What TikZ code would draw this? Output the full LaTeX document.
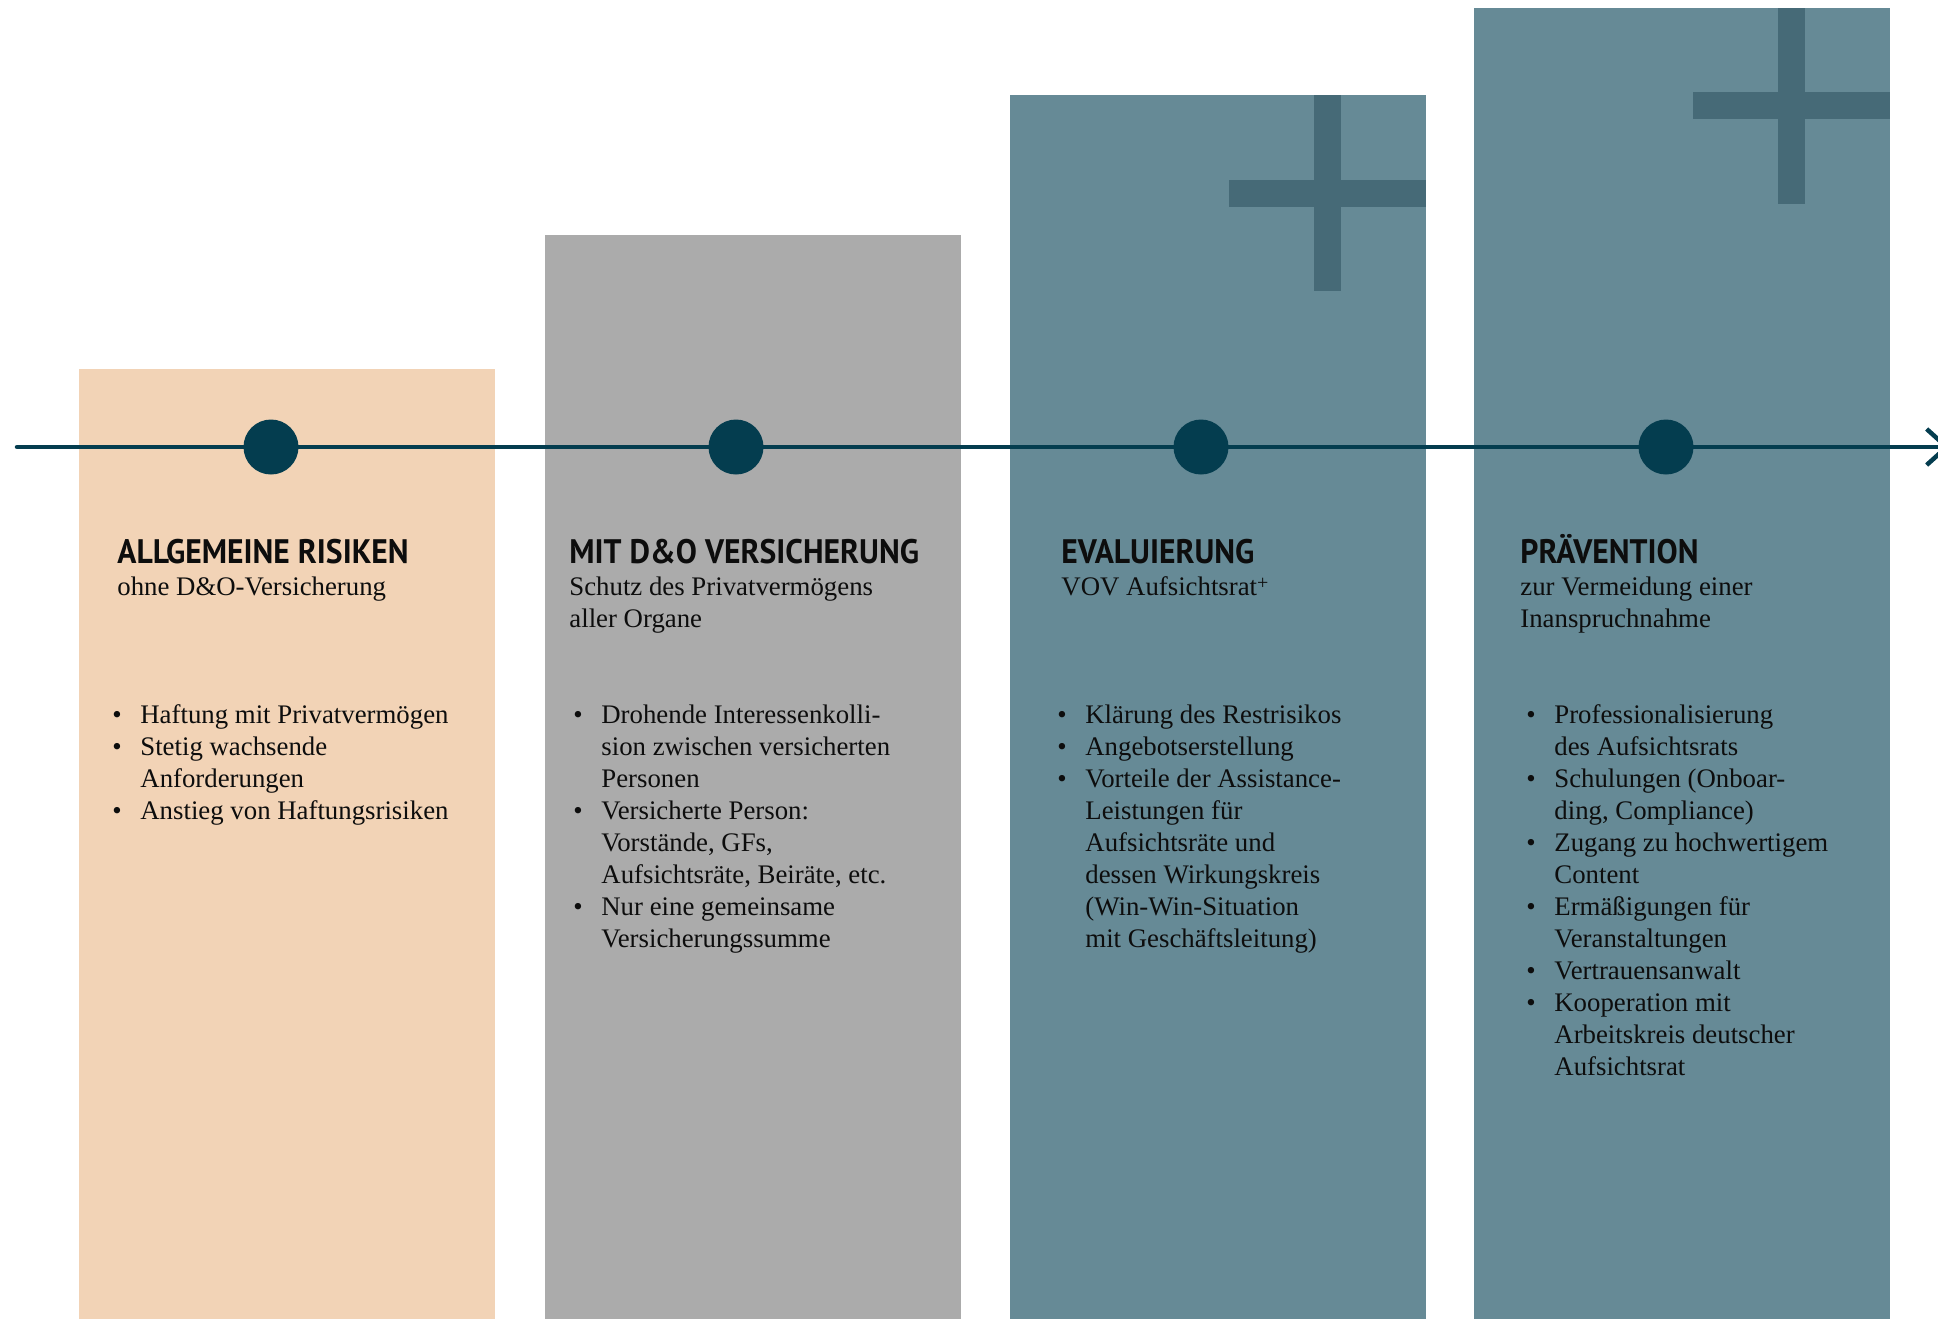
\documentclass[tikz,border=0pt]{standalone}
\usepackage{fontspec}
\usepackage{graphicx}
\usetikzlibrary{arrows.meta}
\setmainfont{Liberation Serif}
\newfontfamily\headfont[FakeStretch=0.93]{PT Sans}
\definecolor{peach}{HTML}{F2D3B6}
\definecolor{stone}{HTML}{ABABAB}
\definecolor{slate}{HTML}{668A96}
\definecolor{slatedark}{HTML}{466A77}
\definecolor{ink}{HTML}{043D4F}
\newcommand{\bodyfont}{\fontsize{13.4}{16}\selectfont}
\newcommand{\hd}[1]{{\headfont\bfseries\fontsize{17}{16}\selectfont #1}}
\newcommand{\bul}{\makebox[14pt][l]{\textbullet}}
\newcommand{\ind}{\hspace*{14pt}}
\newcommand{\supplus}{\raisebox{3pt}{\fontsize{10}{10}\selectfont +}}

\begin{document}
\begin{tikzpicture}[x=0.5pt,y=-0.5pt,
    dot/.style={circle,fill=ink,minimum size=27.5pt,inner sep=0pt},
    timeline/.style={draw=ink,line width=2.25pt,line cap=round,-{Straight Barb[length=10pt,width=18pt]}},
    head/.style={anchor=base west,inner sep=0pt,font=\bodyfont,text=black!95},
    list/.style={anchor=base west,inner sep=0pt,font=\bodyfont,text=black!95}]
  \useasboundingbox (0,0) rectangle (1938,1319);

  % columns
  \fill[peach] (79,369) rectangle (495,1319);
  \fill[stone] (545,235) rectangle (961,1319);
  \fill[slate] (1010,95) rectangle (1426,1319);
  \fill[slate] (1474,8) rectangle (1890,1319);

  % plus marks
  \fill[slatedark] (1314,95) rectangle (1341,291);
  \fill[slatedark] (1229,180) rectangle (1426,207);
  \fill[slatedark] (1778,8) rectangle (1805,204);
  \fill[slatedark] (1693,92) rectangle (1890,119);

  % timeline
  \coordinate (tstart) at (17,447);
  \coordinate (tend) at (1950,447);
  \node[dot] (d1) at (271,447) {};
  \node[dot] (d2) at (736,447) {};
  \node[dot] (d3) at (1201,447) {};
  \node[dot] (d4) at (1666,447) {};
  \draw[timeline] (tstart) -- (d1) -- (d2) -- (d3) -- (d4) -- (tend);

  % headings
  \node[head] (h1) at (117,563) {\parbox[t]{200pt}{\hd{ALLGEMEINE RISIKEN}\\
    ohne D\&O-Versicherung}};
  \node[head] (h2) at (569,563) {\parbox[t]{200pt}{\hd{MIT D\&O VERSICHERUNG}\\
    Schutz des Privatvermögens\\ aller Organe}};
  \node[head] (h3) at (1061,563) {\parbox[t]{200pt}{\hd{EVALUIERUNG}\\
    VOV Aufsichtsrat\supplus}};
  \node[head] (h4) at (1520,563) {\parbox[t]{200pt}{\hd{PRÄVENTION}\\
    zur Vermeidung einer\\ Inanspruchnahme}};

  % bullet lists
  \node[list] (l1) at (112,723) {\parbox[t]{200pt}{%
    \bul Haftung mit Privatvermögen\\
    \bul Stetig wachsende\\
    \ind Anforderungen\\
    \bul Anstieg von Haftungsrisiken}};
  \node[list] (l2) at (573,723) {\parbox[t]{200pt}{%
    \bul Drohende Interessenkolli-\\
    \ind sion zwischen versicherten\\
    \ind Personen\\
    \bul Versicherte Person:\\
    \ind Vorstände, GFs,\\
    \ind Aufsichtsräte, Beiräte, etc.\\
    \bul Nur eine gemeinsame\\
    \ind Versicherungssumme}};
  \node[list] (l3) at (1057,723) {\parbox[t]{200pt}{%
    \bul Klärung des Restrisikos\\
    \bul Angebotserstellung\\
    \bul Vorteile der Assistance-\\
    \ind Leistungen für\\
    \ind Aufsichtsräte und\\
    \ind dessen Wirkungskreis\\
    \ind (Win-Win-Situation\\
    \ind mit Geschäftsleitung)}};
  \node[list] (l4) at (1526,723) {\parbox[t]{200pt}{%
    \bul Professionalisierung\\
    \ind des Aufsichtsrats\\
    \bul Schulungen (Onboar-\\
    \ind ding, Compliance)\\
    \bul Zugang zu hochwertigem\\
    \ind Content\\
    \bul Ermäßigungen für\\
    \ind Veranstaltungen\\
    \bul Vertrauensanwalt\\
    \bul Kooperation mit\\
    \ind Arbeitskreis deutscher\\
    \ind Aufsichtsrat}};
\end{tikzpicture}
\end{document}
